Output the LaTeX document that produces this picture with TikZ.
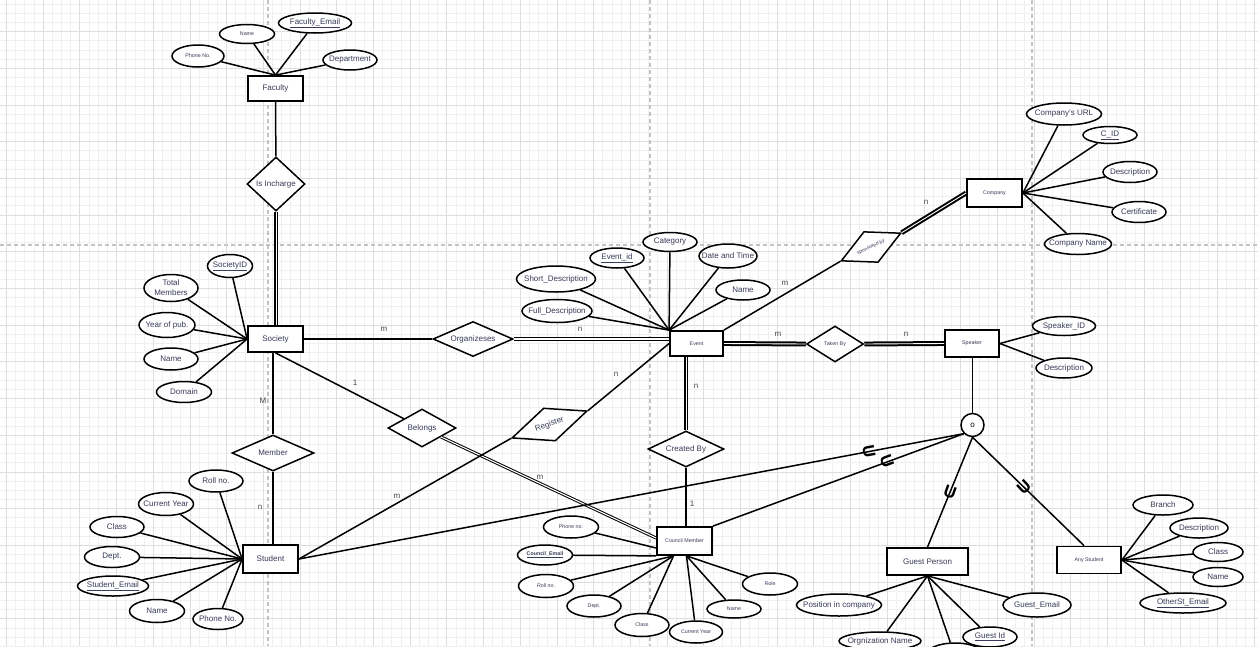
\documentclass[tikz,border=0pt]{standalone}
\usepackage{fontspec}
\setmainfont{Liberation Sans}
\usetikzlibrary{shapes.geometric,calc}
\newcommand\fsz[1]{\fontsize{#1}{#1}\selectfont}
\definecolor{txt}{RGB}{55,58,88}
\definecolor{lbltxt}{RGB}{70,70,75}
\definecolor{gridminor}{RGB}{240,240,240}
\definecolor{gridmajor}{RGB}{222,222,222}
\definecolor{pageline}{RGB}{195,195,195}
\begin{document}
\begin{tikzpicture}[x=1pt,y=-1pt,
  sz/.style 2 args={minimum width=#1,minimum height=#2},
  ent/.style={draw,fill=white,line width=1.8pt,inner sep=0,minimum width=55,minimum height=26,font=\fsz{8},text=txt},
  attr/.style={draw,fill=white,ellipse,line width=1.5pt,inner sep=0,font=\fsz{8},text=txt},
  rel/.style={draw,fill=white,diamond,line width=1.5pt,inner sep=0,font=\fsz{8},text=txt},
  ln/.style={line width=1.5pt},
  dbl/.style={double,double distance=1.2pt,line width=1.2pt},
  thindbl/.style={double,double distance=1.1pt,line width=1pt},
  thickdbl/.style={double,double distance=0.9pt,line width=2pt},
  lbl/.style={font=\fsz{8},text=lbltxt,inner sep=0},
  usym/.style={font=\bfseries\fsz{17},inner sep=0}]
\useasboundingbox (0,0) rectangle (1258,646);
\fill[white] (0,0) rectangle (1258,646);
% grid
\foreach \i in {0,...,137} \draw[gridminor,line width=0.5pt] ({6.3+\i*9.175},0) -- ({6.3+\i*9.175},646);
\foreach \j in {-3,...,67} \draw[gridminor,line width=0.5pt] (0,{31.4+\j*9.175}) -- (1258,{31.4+\j*9.175});
\foreach \i in {0,...,34} \draw[gridmajor,line width=0.6pt] ({6.3+\i*36.7},0) -- ({6.3+\i*36.7},646);
\foreach \j in {0,...,17} \draw[gridmajor,line width=0.6pt] (0,{31.4+\j*36.7}) -- (1258,{31.4+\j*36.7});
\foreach \xx in {268,650,1032} \draw[pageline,line width=1.4pt,dash pattern=on 4pt off 3pt] (\xx,0) -- (\xx,646);
\draw[pageline,line width=1.4pt,dash pattern=on 4pt off 3pt] (0,245) -- (1258,245);

% ---------- Faculty ----------
\node[ent,minimum height=25] (faculty) at (275.5,88.5) {Faculty};
\node[attr,sz={52}{22},font=\fsz{5.3}] (fphone) at (198,56) {\makebox[0pt]{Phone No.}};
\node[attr,sz={55}{19},font=\fsz{5.3}] (fname) at (247,34) {\makebox[0pt]{Name}};
\node[attr,sz={73}{20}] (femail) at (315,23) {\makebox[0pt]{\underline{Faculty\_Email}}};
\node[attr,sz={54}{20}] (fdept) at (350,60) {\makebox[0pt]{Department}};
\node[rel,sz={58}{54}] (incharge) at (276,184) {\makebox[0pt]{Is Incharge}};

% ---------- Society ----------
\node[ent] (society) at (275.5,339) {Society};
\node[attr,sz={45}{23}] (socid) at (230,266) {\makebox[0pt]{\underline{SocietyID}}};
\node[attr,sz={54}{27},align=center,font=\fontsize{8}{10}\selectfont] (totmem) at (171,288) {Total\\Members};
\node[attr,sz={56}{25}] (yearpub) at (167,325) {\makebox[0pt]{Year of pub.}};
\node[attr,sz={54}{22}] (sname) at (171,359) {\makebox[0pt]{Name}};
\node[attr,sz={55}{21}] (domain) at (184,392) {\makebox[0pt]{Domain}};
\node[rel,sz={82}{36}] (member) at (273,453) {\makebox[0pt]{Member}};
\node[rel,sz={80}{35}] (org) at (473,339) {\makebox[0pt]{Organizeses}};
\node[rel,sz={68}{38}] (belongs) at (422,428) {\makebox[0pt]{Belongs}};

% ---------- Student ----------
\node[ent,minimum height=28] (student) at (270.5,559) {Student};
\node[attr,sz={54}{22}] (roll) at (216,481) {\makebox[0pt]{Roll no.}};
\node[attr,sz={55}{23}] (curyear) at (166,504) {\makebox[0pt]{Current Year}};
\node[attr,sz={54}{21}] (sclass) at (117,527) {\makebox[0pt]{Class}};
\node[attr,sz={55}{21}] (sdept) at (112,557) {\makebox[0pt]{Dept.}};
\node[attr,sz={71}{20}] (semail) at (113,586) {\makebox[0pt]{\underline{Student\_Email}}};
\node[attr,sz={55}{23}] (stname) at (157,611) {\makebox[0pt]{Name}};
\node[attr,sz={50}{21}] (sphone) at (218,619) {\makebox[0pt]{Phone No.}};
\node[rel,sz={80}{35},rotate=19.8] (register) at (549.5,424.5) {\makebox[0pt]{Register}};

% ---------- Event ----------
\node[ent,minimum width=53,minimum height=25,font=\fsz{5.3}] (event) at (696.5,343.5) {Event};
\node[attr,sz={54}{19}] (category) at (670,242) {\makebox[0pt]{Category}};
\node[attr,sz={54}{20}] (eventid) at (617,258) {\makebox[0pt]{\underline{Event\_id}}};
\node[attr,sz={58}{24}] (datetime) at (728,256) {\makebox[0pt]{Date and Time}};
\node[attr,sz={79}{26}] (shortdesc) at (556,279) {\makebox[0pt]{Short\_Description}};
\node[attr,sz={54}{20}] (ename) at (743,290) {\makebox[0pt]{Name}};
\node[attr,sz={70}{23}] (fulldesc) at (557,311) {\makebox[0pt]{Full\_Description}};
\node[rel,sz={76}{36}] (created) at (686,449) {\makebox[0pt]{Created By}};
\node[rel,sz={57}{36},font=\fsz{5.3}] (taken) at (835,344) {\makebox[0pt]{Taken By}};
\node[rel,sz={66}{34},rotate=25,font=\fsz{5}] (spons) at (871,247) {\makebox[0pt]{sponsored by}};

% ---------- Council Member ----------
\node[ent,minimum height=28,font=\fsz{5.3}] (council) at (684.5,541) {Council Member};
\node[attr,sz={55}{22},font=\fsz{5.3}] (cphone) at (571,527) {\makebox[0pt]{Phone no.}};
\node[attr,sz={55}{20},font=\bfseries\fsz{5.3}] (cemail) at (545,555) {\makebox[0pt]{\underline{Council\_Email}}};
\node[attr,sz={55}{23},font=\fsz{5.3}] (croll) at (546,586) {\makebox[0pt]{Roll no.}};
\node[attr,sz={54}{22},font=\fsz{5.3}] (cdept) at (594,606) {\makebox[0pt]{Dept.}};
\node[attr,sz={54}{23},font=\fsz{5.3}] (cclass) at (642,625) {\makebox[0pt]{Class}};
\node[attr,sz={53}{22},font=\fsz{5.3}] (ccur) at (696,632) {\makebox[0pt]{Current Year}};
\node[attr,sz={54}{18},font=\fsz{5.3}] (cname) at (734,609) {\makebox[0pt]{Name}};
\node[attr,sz={55}{22},font=\fsz{5.3}] (crole) at (770,584) {\makebox[0pt]{Role}};

% ---------- Speaker ----------
\node[ent,minimum width=54,minimum height=27,font=\fsz{5.3}] (speaker) at (972,343.5) {Speaker};
\node[attr,sz={63}{19}] (spid) at (1064,326) {\makebox[0pt]{Speaker\_ID}};
\node[attr,sz={56}{20}] (spdesc) at (1064,368) {\makebox[0pt]{Description}};
\node[draw,fill=white,circle,minimum size=23,inner sep=0,line width=1.5pt,font=\fsz{8}] (circ) at (972.5,425) {o};

% ---------- Guest Person ----------
\node[ent,minimum width=81,minimum height=27] (guest) at (927.5,561.5) {Guest Person};
\node[attr,sz={85}{22}] (gpos) at (839,605) {\makebox[0pt]{Position in company}};
\node[attr,sz={82}{18}] (gorg) at (880,641) {\makebox[0pt]{Orgnization Name}};
\node[attr,sz={60}{26}] (gextra) at (955,656) {};
\node[attr,sz={54}{20}] (gid) at (990,637) {\makebox[0pt]{\underline{Guest Id}}};
\node[attr,sz={68}{24}] (gemail) at (1037,605) {\makebox[0pt]{Guest\_Email}};

% ---------- Any Student ----------
\node[ent,minimum width=64,minimum height=27,font=\fsz{5.3}] (anyst) at (1089,560) {Any Student};
\node[attr,sz={60}{20}] (branch) at (1163,505) {\makebox[0pt]{Branch}};
\node[attr,sz={58}{20}] (adesc) at (1199,528) {\makebox[0pt]{Description}};
\node[attr,sz={50}{19}] (aclass) at (1218,552) {\makebox[0pt]{Class}};
\node[attr,sz={50}{19}] (aname) at (1218,577) {\makebox[0pt]{Name}};
\node[attr,sz={86}{20}] (aemail) at (1183,603) {\makebox[0pt]{\underline{OtherSt\_Email}}};

% ---------- Company ----------
\node[ent,minimum height=28,font=\fsz{5.3}] (company) at (994.5,193) {Company};
\node[attr,sz={75}{22}] (curl) at (1064,114) {\makebox[0pt]{Company's URL}};
\node[attr,sz={54}{17}] (cid) at (1110,135) {\makebox[0pt]{\underline{C\_ID}}};
\node[attr,sz={54}{21}] (codesc) at (1130,172) {\makebox[0pt]{Description}};
\node[attr,sz={54}{21}] (cert) at (1139,212) {\makebox[0pt]{Certificate}};
\node[attr,sz={67}{21}] (coname) at (1078,244) {\makebox[0pt]{Company Name}};

% ---------- connectors ----------
\foreach \a in {fphone,fname,femail,fdept} \draw[ln] (\a) -- (faculty.north);
\draw[ln] (faculty) -- (incharge);
\draw[thickdbl] (incharge.south) -- (incharge.south |- society.north);
\foreach \a in {socid,totmem,yearpub,sname,domain} \draw[ln] (\a) -- (society.west);
\draw[ln] (member.north |- society.south) -- (member.north);
\draw[ln] (member.south) -- (member.south |- student.north);
\draw[ln] (society.east) -- (org.west);
\draw[dbl] (org.east) -- (org.east -| event.west);
\draw[ln] (society.south) -- (belongs);
\draw[thindbl] (belongs) -- ([yshift=3pt]council.west);
\foreach \a in {roll,curyear,sclass,sdept,semail,stname,sphone} \draw[ln] (\a) -- (student.west);
\draw[ln] (student.east) -- (register.west);
\draw[ln] (register.east) -- (event.west);
\foreach \a in {category,eventid,datetime,shortdesc,ename,fulldesc} \draw[ln] (\a) -- (event.north west);
\draw[thickdbl] (created.north |- event.south) -- (created.north);
\draw[ln] (created.south) -- (created.south |- council.north);
\draw[thickdbl] (event.east) -- (taken.west);
\draw[thickdbl] (taken.east) -- (speaker.west);
\draw[ln] (event.north east) -- (spons.west);
\draw[thickdbl] (spons.east) -- (company.west);
\foreach \a in {curl,cid,codesc,cert,coname} \draw[ln] (\a) -- (company.east);
\foreach \a in {spid,spdesc} \draw[ln] (\a) -- (speaker.east);
\draw[ln] (circ.north |- speaker.south) -- (circ.north);
\draw[ln] (circ.south west) -- (student.east);
\draw[ln] (circ.south west) -- (council.north east);
\draw[ln] (circ.south) -- (guest.north);
\draw[ln] (circ.south) -- ([xshift=-5pt]anyst.north);
\draw[ln] (cphone) -- ([yshift=-7pt]council.west);
\draw[ln] (cemail) -- (council.south west);
\foreach \a in {croll,cdept,cclass} \draw[ln] (\a) -- ([xshift=-11pt]council.south);
\foreach \a in {ccur,cname,crole} \draw[ln] (\a) -- ([xshift=2pt]council.south);
\foreach \a in {gpos,gorg,gextra,gid,gemail} \draw[ln] (\a) -- (guest.south);
\foreach \a in {branch,adesc,aclass,aname,aemail} \draw[ln] (\a) -- (anyst.east);

% ---------- cardinality labels ----------
\node[lbl] (lM) at (263,401) {M};
\node[lbl] (ln1) at (260,507) {n};
\node[lbl] (lm1) at (384,329) {m};
\node[lbl] (ln2) at (580,329) {n};
\node[lbl] (l11) at (355,383) {1};
\node[lbl] (lm2) at (540,477) {m};
\node[lbl] (lm3) at (397,496) {m};
\node[lbl] (ln3) at (616,374) {n};
\node[lbl] (ln4) at (696,386) {n};
\node[lbl] (l12) at (692,504) {1};
\node[lbl] (lm4) at (778,334) {m};
\node[lbl] (ln5) at (906,334) {n};
\node[lbl] (lm5) at (785,283) {m};
\node[lbl] (ln6) at (926,202) {n};

% ---------- subset symbols ----------
\node[usym,rotate=-79.5] (u1) at (869,451) {U};
\node[usym,rotate=-69.7] (u2) at (887,461) {U};
\node[usym,rotate=-19.7] (u3) at (950,492) {U};
\node[usym,rotate=42.6] (u4) at (1024,487) {U};
\end{tikzpicture}
\end{document}
